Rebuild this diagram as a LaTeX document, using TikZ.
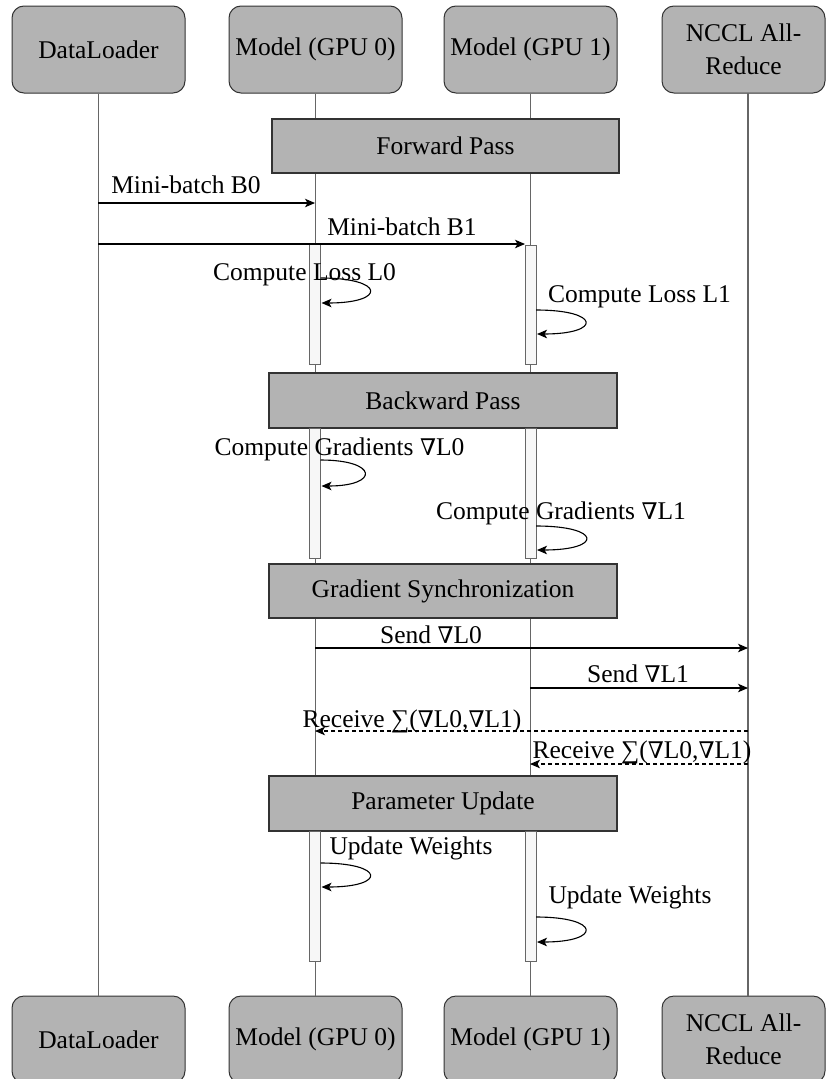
\documentclass[tikz,border=0pt]{standalone}
\usepackage{fontspec}
\setmainfont{Liberation Serif}
\newfontfamily\symfont{DejaVu Serif}[Scale=0.9]
\usetikzlibrary{arrows.meta}
\definecolor{boxgray}{HTML}{B3B3B3}
\definecolor{boxline}{HTML}{333333}
\definecolor{lifegray}{HTML}{666666}
\definecolor{barfill}{HTML}{F7F7F7}
\newcommand{\nab}{{\symfont ∇}}

\tikzstyle{actor} = [draw=boxline, fill=boxgray, rounded corners=12pt, line width=1pt, minimum width=173pt, minimum height=87pt, align=center, inner sep=0pt, font=\fontsize{25.5}{33}\selectfont]
\tikzstyle{phase} = [draw=boxline, fill=boxgray, line width=1.5pt, minimum width=348pt, minimum height=55pt, inner sep=0pt]
\tikzstyle{bar} = [draw=lifegray, fill=barfill, line width=1pt, minimum width=11pt, inner sep=0pt]
\tikzstyle{life} = [draw=lifegray, line width=1.4pt]
\tikzstyle{msg} = [-{Stealth[length=10pt,width=8.5pt,inset=2.5pt]}, line width=1.1pt]
\tikzstyle{reply} = [msg, dash pattern=on 4pt off 3pt]
\tikzstyle{txt} = [inner sep=0pt, anchor=base]

\begin{document}
\begin{tikzpicture}[x=1pt, y=-1pt, font=\fontsize{25.5}{29}\selectfont]
\clip (0,0) rectangle (826,1079);

% participants
\node[actor] (dl) at (98.5,49.5) {DataLoader};
\node[actor] (g0) at (315.5,49.5) {Model (GPU 0)};
\node[actor] (g1) at (530.5,49.5) {Model (GPU 1)};
\node[actor, minimum width=163pt] (nc) at (743.5,49.5) {NCCL All-\\Reduce};
\node[actor] (dlb) at (98.5,1039.5) {DataLoader};
\node[actor] (g0b) at (315.5,1039.5) {Model (GPU 0)};
\node[actor] (g1b) at (530.5,1039.5) {Model (GPU 1)};
\node[actor, minimum width=163pt] (ncb) at (743.5,1039.5) {NCCL All-\\Reduce};
\coordinate (nct) at (748,93);
\coordinate (ncbt) at (748,996);

\draw[life] (dl.south) -- (dlb.north);
\draw[life] (g0.south) -- (g0b.north);
\draw[life] (g1.south) -- (g1b.north);
\draw[life] (nct) -- (ncbt);

% phases
\node[phase, minimum width=347pt, minimum height=54pt] (fwd) at (445.5,146) {Forward Pass};
\node[phase] (bwd) at (443,400.5) {Backward Pass};
\node[phase, minimum height=54pt] (sync) at (443,591) {Gradient Synchronization};
\node[phase] (upd) at (443,803.5) {Parameter Update};

% activations
\node[bar, minimum height=120pt] (a0) at (315,304) {};
\node[bar, minimum height=119pt] (a1) at (530.5,304.5) {};
\node[bar, minimum height=130pt] (b0) at (315,493) {};
\node[bar, minimum height=130pt] (b1) at (530.5,493) {};
\node[bar, minimum height=130pt] (c0) at (315,896) {};
\node[bar, minimum height=130pt] (c1) at (530.5,896) {};

% forward
\coordinate (m0s) at (98,203);
\coordinate (m0e) at (315,203);
\coordinate (m1s) at (98,244);
\coordinate (m1e) at (525,244);
\draw[msg] (m0s) -- (m0e);
\draw[msg] (m1s) -- (m1e);
\node[txt] (m0t) at (186,193) {Mini-batch B0};
\node[txt] (m1t) at (402,235) {Mini-batch B1};

\coordinate (l0a) at (320.5,278);
\coordinate (l0b) at (321.5,303);
\coordinate (l1a) at (536,310);
\coordinate (l1b) at (537,334);
\draw[msg] (l0a) .. controls +(65,0) and +(65,0) .. (l0b);
\draw[msg] (l1a) .. controls +(65,0) and +(65,0) .. (l1b);
\node[txt] (l0t) at (304.5,280) {Compute Loss L0};
\node[txt] (l1t) at (639.5,302) {Compute Loss L1};

% backward
\coordinate (d0a) at (320.5,460);
\coordinate (d0b) at (321.5,486);
\coordinate (d1a) at (536,526);
\coordinate (d1b) at (537,550);
\draw[msg] (d0a) .. controls +(58,0) and +(58,0) .. (d0b);
\draw[msg] (d1a) .. controls +(66,0) and +(66,0) .. (d1b);
\node[txt] (d0t) at (339.5,455) {Compute Gradients \nab L0};
\node[txt] (d1t) at (561,519) {Compute Gradients \nab L1};

% sync
\coordinate (s0s) at (315,648);
\coordinate (s0e) at (748,648);
\coordinate (s1s) at (530,688);
\coordinate (s1e) at (748,688);
\coordinate (r0s) at (748,731);
\coordinate (r0e) at (315,731);
\coordinate (r1s) at (748,764);
\coordinate (r1e) at (530,764);
\draw[msg] (s0s) -- (s0e);
\draw[msg] (s1s) -- (s1e);
\draw[reply] (r0s) -- (r0e);
\draw[reply] (r1s) -- (r1e);
\node[txt] (s0t) at (431,643) {Send \nab L0};
\node[txt] (s1t) at (638,682) {Send \nab L1};
\node[txt] (r0t) at (412,727) {Receive ∑(\nab L0,\nab L1)};
\node[txt] (r1t) at (642,758) {Receive ∑(\nab L0,\nab L1)};

% update
\coordinate (u0a) at (320.5,863);
\coordinate (u0b) at (321.5,887);
\coordinate (u1a) at (536,917);
\coordinate (u1b) at (537,942);
\draw[msg] (u0a) .. controls +(65,0) and +(65,0) .. (u0b);
\draw[msg] (u1a) .. controls +(65,0) and +(65,0) .. (u1b);
\node[txt] (u0t) at (411,854) {Update Weights};
\node[txt] (u1t) at (630,903) {Update Weights};
\end{tikzpicture}
\end{document}
